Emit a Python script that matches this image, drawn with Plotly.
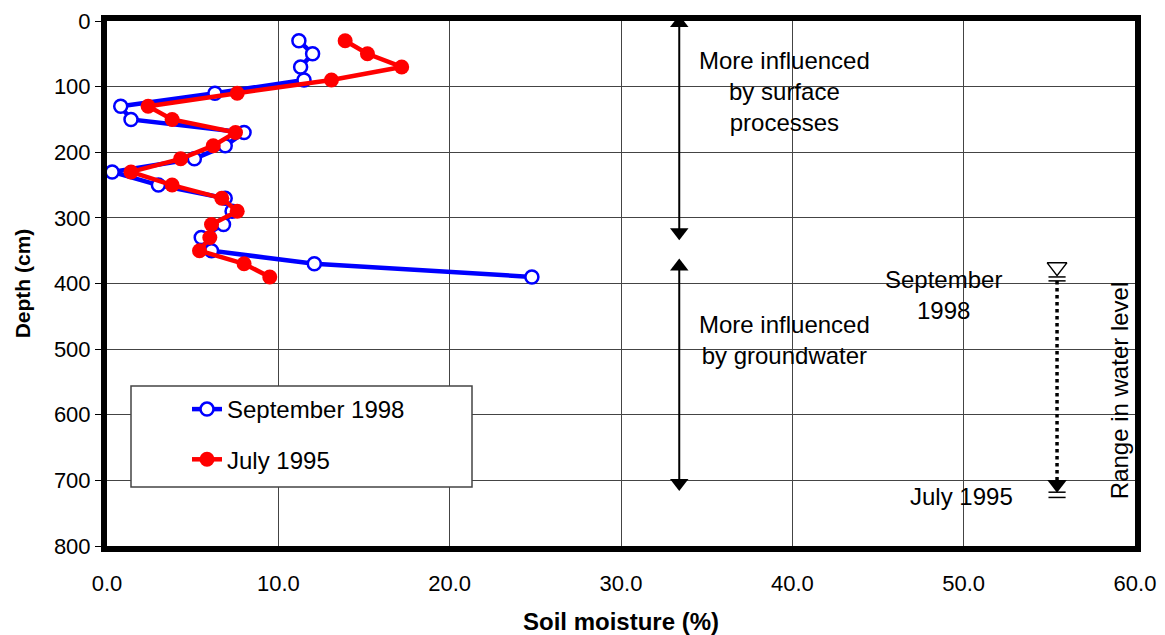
import plotly.graph_objects as go

# ---- data ----
depth_cm = [30, 50, 70, 90, 110, 130, 150, 170, 190, 210, 230, 250, 270, 290, 310, 330, 350, 370, 390]
sept_1998 = [11.2, 12.0, 11.3, 11.5, 6.3, 0.8, 1.4, 8.0, 6.9, 5.1, 0.3, 3.0, 6.9, 7.3, 6.8, 5.5, 6.1, 12.1, 24.8]
july_1995 = [13.9, 15.2, 17.2, 13.1, 7.6, 2.4, 3.8, 7.5, 6.2, 4.3, 1.4, 3.8, 6.7, 7.6, 6.1, 6.0, 5.4, 8.0, 9.5]

x_ticks = [0, 10, 20, 30, 40, 50, 60]
x_tick_labels = ["0.0", "10.0", "20.0", "30.0", "40.0", "50.0", "60.0"]
y_ticks = [0, 100, 200, 300, 400, 500, 600, 700, 800]

# annotation positions (data units)
ARROW_X = 33.4
ZONE1 = (3, 322)     # surface processes arrow (head centres)
ZONE2 = (374, 704)   # groundwater arrow
WL_X = 55.45
WL_SEPT = 390        # water level Sept 1998
WL_JULY = 718        # water level July 1995

FONT = "Liberation Sans, Arial, sans-serif"

fig = go.Figure()

fig.add_trace(go.Scatter(
    x=sept_1998, y=depth_cm, mode="lines+markers", name="September 1998",
    line=dict(color="#0000ff", width=4.5),
    marker=dict(symbol="circle", size=13, color="white", line=dict(color="#0000ff", width=2.5)),
    legendgroup="a",
))
fig.add_trace(go.Scatter(
    x=july_1995, y=depth_cm, mode="lines+markers", name="July 1995",
    line=dict(color="#ff0000", width=4.5),
    marker=dict(symbol="circle", size=15, color="#ff0000"),
    legendgroup="b",
))

# double-headed arrows
for top, bot in (ZONE1, ZONE2):
    fig.add_shape(type="line", x0=ARROW_X, x1=ARROW_X, y0=top, y1=bot,
                  line=dict(color="black", width=2))
    fig.add_trace(go.Scatter(
        x=[ARROW_X, ARROW_X], y=[top, bot], mode="markers", showlegend=False,
        hoverinfo="skip", cliponaxis=False,
        marker=dict(symbol=["triangle-up", "triangle-down"], size=16, color="black"),
    ))

# water-level symbols
fig.add_shape(type="line", x0=WL_X, x1=WL_X, y0=WL_SEPT + 6, y1=WL_JULY - 18,
              line=dict(color="black", width=3.5, dash="dot"))
for lv in (WL_SEPT, WL_SEPT + 6, WL_JULY, WL_JULY + 8):
    fig.add_shape(type="line", x0=WL_X - 0.5, x1=WL_X + 0.5, y0=lv, y1=lv,
                  line=dict(color="black", width=1.5))
fig.add_trace(go.Scatter(
    x=[WL_X], y=[WL_SEPT - 15], mode="markers", showlegend=False, hoverinfo="skip",
    marker=dict(symbol="triangle-down-open", size=17, color="black", line=dict(width=1.5)),
))
fig.add_trace(go.Scatter(
    x=[WL_X], y=[WL_JULY - 12], mode="markers", showlegend=False, hoverinfo="skip",
    marker=dict(symbol="triangle-down", size=17, color="black"),
))

ann_font = dict(family=FONT, size=24, color="black")
fig.add_annotation(x=39.55, y=107, text="More influenced<br>by surface<br>processes",
                   showarrow=False, font=ann_font, align="center")
fig.add_annotation(x=39.55, y=486, text="More influenced<br>by groundwater",
                   showarrow=False, font=ann_font, align="center")
fig.add_annotation(x=48.8, y=418, text="September<br>1998",
                   showarrow=False, font=ann_font, align="center")
fig.add_annotation(x=49.9, y=725, text="July 1995",
                   showarrow=False, font=ann_font, align="center")
fig.add_annotation(x=59.07, y=564, text="Range in water level", textangle=-90,
                   showarrow=False, font=ann_font)

# legend box
fig.add_shape(type="rect", xref="paper", yref="paper",
              x0=(131 - 107) / 1028, x1=(472 - 107) / 1028,
              y0=(543 - 484) / 525, y1=(543 - 383) / 525,
              line=dict(color="#444", width=1.5), fillcolor="white", layer="above")

fig.update_layout(
    width=1157, height=627,
    margin=dict(l=99, r=30, t=13, b=89),
    paper_bgcolor="white", plot_bgcolor="white",
    font=dict(family=FONT, size=22, color="black"),
    showlegend=True,
    legend=dict(x=(187 - 107) / 1028, y=(543 - 384) / 525, xanchor="left", yanchor="top",
                bgcolor="rgba(0,0,0,0)", borderwidth=0, tracegroupgap=16,
                font=dict(family=FONT, size=24, color="black")),
    xaxis=dict(range=[0, 60], tickvals=x_ticks, ticktext=x_tick_labels, automargin=False,
               showgrid=True, gridcolor="#444", gridwidth=1, zeroline=False,
               showline=True, linecolor="black", linewidth=6, mirror=True,
               ticks="", ticklabelstandoff=13, ticklabeloverflow="allow",
               title=dict(text="<b>Soil moisture (%)</b>", font=dict(size=24), standoff=20)),
    yaxis=dict(range=[800, 0], tickvals=y_ticks, automargin=False,
               showgrid=True, gridcolor="#444", gridwidth=1, zeroline=False,
               showline=True, linecolor="black", linewidth=6, mirror=True,
               ticks="outside", ticklen=6, tickcolor="black", tickwidth=1,
               ticklabeloverflow="allow",
               title=dict(text="<b>Depth (cm)</b>", font=dict(size=21), standoff=20)),
)

fig.write_html("out.html")
